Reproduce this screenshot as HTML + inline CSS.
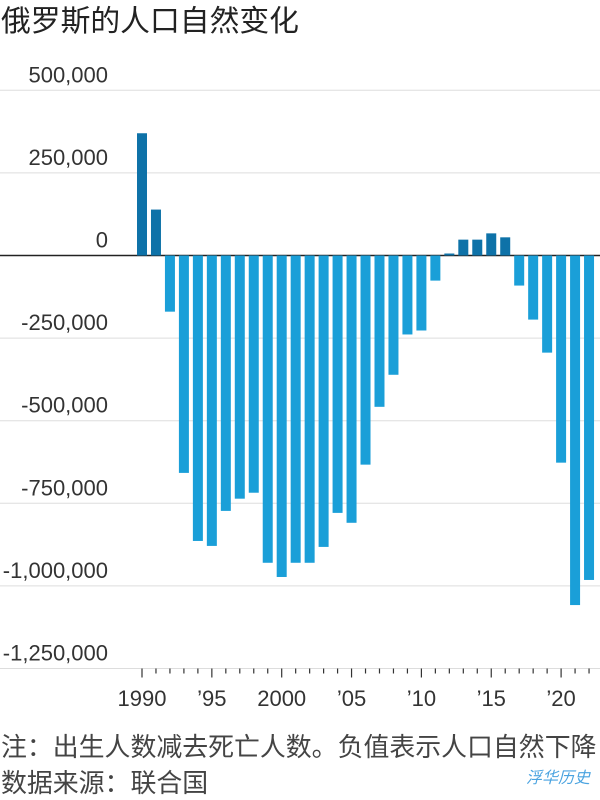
<!DOCTYPE html>
<html><head><meta charset="utf-8"><style>
body{margin:0;background:#fff;width:600px;height:800px;overflow:hidden;font-family:"Liberation Sans","Noto Sans CJK SC",sans-serif;}
svg{position:absolute;left:0;top:0}
</style></head><body>
<svg width="600" height="800">
<text x="1" y="31" font-size="29.8" fill="#222">俄罗斯的人口自然变化</text>
<g id="grid"></g><g id="bars"></g><g id="xaxis"></g>
<text x="1" y="756" font-size="25.9" fill="#444">注：出生人数减去死亡人数。负值表示人口自然下降</text>
<text x="1" y="792" font-size="25.9" fill="#444">数据来源：联合国</text>
<text x="590" y="783" font-size="16" fill="#4aa3e0" text-anchor="end" font-style="italic">浮华历史</text>
</svg>
<script>
const years=[1990,1991,1992,1993,1994,1995,1996,1997,1998,1999,2000,2001,2002,2003,2004,2005,2006,2007,2008,2009,2010,2011,2012,2013,2014,2015,2016,2017,2018,2019,2020,2021,2022];
const values=[370000,139000,-170000,-658000,-864000,-879000,-773000,-736000,-718000,-930000,-973000,-930000,-930000,-882000,-779000,-809000,-633000,-458000,-361000,-239000,-227000,-76000,6000,48000,48000,67000,55000,-91000,-194000,-294000,-627000,-1058000,-982000];
const yTicks=[500000,250000,0,-250000,-500000,-750000,-1000000,-1250000];
const yTickLabels=["500,000","250,000","0","-250,000","-500,000","-750,000","-1,000,000","-1,250,000"];
const xLabelYears=[1990,1995,2000,2005,2010,2015,2020];
const xLabels=["1990","’95","2000","’05","’10","’15","’20"];
const NS="http://www.w3.org/2000/svg";
const y=v=>255.5-v*(82.6/250000);
const x=yr=>142+(yr-1990)*13.97;
function mk(p,t,a){const e=document.createElementNS(NS,t);for(const k in a)e.setAttribute(k,a[k]);p.appendChild(e);return e;}
const g=document.getElementById('grid'),b=document.getElementById('bars'),xa=document.getElementById('xaxis');
yTicks.forEach((v,i)=>{
 const l=mk(g,'line',{x1:0,x2:600,y1:y(v),y2:y(v),stroke:v===0?'#222':'#ddd','stroke-width':v===0?1.5:1});
 
 
 const t=mk(g,'text',{x:108,y:y(v)-8,'font-size':22,fill:'#333','text-anchor':'end'});
 t.textContent=yTickLabels[i];
 
 
});
years.forEach((yr,i)=>{
 const v=values[i];const top=Math.min(y(v),y(0)),h=Math.abs(y(v)-y(0));
 const r=mk(b,'rect',{x:x(yr)-5,y:top,width:10,height:Math.max(h,1),fill:v>=0?'#0e72a8':'#1a9fd8'});
 
 
 const major=xLabelYears.includes(yr);
 const tk=mk(xa,'line',{x1:x(yr),x2:x(yr),y1:y(-1250000),y2:y(-1250000)+(major?9:5),stroke:'#333','stroke-width':1.2});
 
 
});
xLabelYears.forEach((yr,i)=>{
 const t=mk(xa,'text',{x:x(yr),y:706,'font-size':22,fill:'#333','text-anchor':'middle'});
 t.textContent=xLabels[i];
 
 
});
</script>
</body></html>
